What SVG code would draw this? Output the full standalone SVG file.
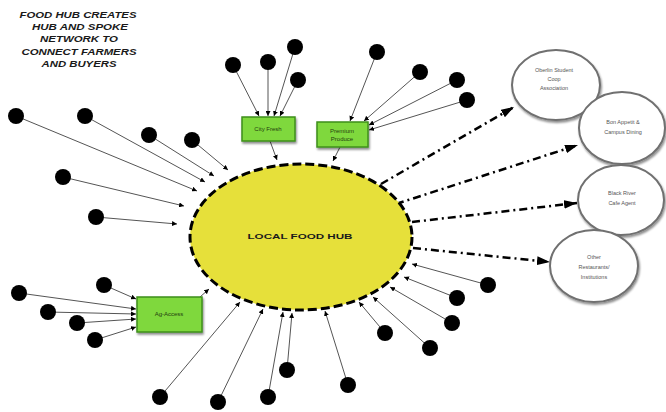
<svg xmlns="http://www.w3.org/2000/svg" width="666" height="412" viewBox="0 0 666 412">
<defs>
<marker id="sm" viewBox="0 0 6 6" refX="6" refY="3" markerWidth="5" markerHeight="5" markerUnits="userSpaceOnUse" orient="auto"><path d="M0,0 L6,3 L0,6 z" fill="#000"/></marker>
<marker id="big" viewBox="0 0 12 8" refX="12" refY="4" markerWidth="13" markerHeight="9" markerUnits="userSpaceOnUse" orient="auto"><path d="M0,0 L12,4 L0,8 z" fill="#000"/></marker>
<filter id="sh" x="-20%" y="-20%" width="140%" height="140%"><feGaussianBlur in="SourceAlpha" stdDeviation="1.2"/><feOffset dx="1" dy="1.5"/><feComponentTransfer><feFuncA type="linear" slope="0.45"/></feComponentTransfer><feMerge><feMergeNode/><feMergeNode in="SourceGraphic"/></feMerge></filter>
</defs>
<style>
.t{font-family:"Liberation Sans",Arial,sans-serif;fill:#1a1a1a;text-anchor:middle}
.title{font-size:9px;font-weight:bold;font-style:italic}
.hub{font-size:8px;font-weight:bold}
.box{fill:#7fd83c;stroke:#3f8f1d;stroke-width:1.5;filter:url(#sh)}
.bt{font-size:6px;fill:#24400f}
.buyer{fill:#fff;stroke:#6f6f6f;stroke-width:2;filter:url(#sh)}
.ct{font-size:5.5px;fill:#555}
.dot{fill:#000}
.sp{stroke:#555;stroke-width:1;fill:none;marker-end:url(#sm)}
.dd{stroke:#000;stroke-width:2.5;fill:none;stroke-dasharray:8 4 2 4;marker-end:url(#big)}
</style>
<rect width="666" height="412" fill="#fff"/>
<g id="title" class="t title">
<text x="78" y="18" textLength="117" lengthAdjust="spacingAndGlyphs">FOOD HUB CREATES</text>
<text x="80" y="30" textLength="96" lengthAdjust="spacingAndGlyphs">HUB AND SPOKE</text>
<text x="79" y="42" textLength="78" lengthAdjust="spacingAndGlyphs">NETWORK TO</text>
<text x="79" y="55" textLength="115" lengthAdjust="spacingAndGlyphs">CONNECT FARMERS</text>
<text x="79" y="67" textLength="75" lengthAdjust="spacingAndGlyphs">AND BUYERS</text>
</g>
<g id="connectors">
<!-- left farmers to hub -->
<line class="sp" x1="16" y1="116" x2="197" y2="191"/>
<line class="sp" x1="85" y1="116" x2="205" y2="182"/>
<line class="sp" x1="149" y1="135" x2="214" y2="176"/>
<line class="sp" x1="192" y1="140" x2="228" y2="170"/>
<line class="sp" x1="63" y1="177" x2="184" y2="206"/>
<line class="sp" x1="96" y1="217" x2="177" y2="224"/>
<!-- City Fresh -->
<line class="sp" x1="233" y1="65" x2="259" y2="116"/>
<line class="sp" x1="268" y1="62" x2="268" y2="116"/>
<line class="sp" x1="295" y1="47" x2="274" y2="116"/>
<line class="sp" x1="298" y1="80" x2="280" y2="116"/>
<line class="sp" x1="270" y1="141" x2="277" y2="160"/>
<!-- Premium Produce -->
<line class="sp" x1="377" y1="52" x2="350" y2="121"/>
<line class="sp" x1="420" y1="72" x2="364" y2="121"/>
<line class="sp" x1="457" y1="80" x2="369" y2="125"/>
<line class="sp" x1="467" y1="100" x2="369" y2="130"/>
<line class="sp" x1="340" y1="147" x2="333" y2="161"/>
<!-- Ag-Access -->
<line class="sp" x1="104" y1="285" x2="136" y2="299"/>
<line class="sp" x1="19" y1="293" x2="136" y2="309"/>
<line class="sp" x1="48" y1="312" x2="136" y2="314"/>
<line class="sp" x1="77" y1="323" x2="136" y2="319"/>
<line class="sp" x1="95" y1="340" x2="136" y2="327"/>
<line class="sp" x1="200" y1="297" x2="209" y2="289"/>
<!-- bottom farmers -->
<line class="sp" x1="160" y1="397" x2="240" y2="302"/>
<line class="sp" x1="218" y1="402" x2="263" y2="309"/>
<line class="sp" x1="268" y1="397" x2="283" y2="312"/>
<line class="sp" x1="287" y1="370" x2="292" y2="313"/>
<line class="sp" x1="348" y1="385" x2="325" y2="311"/>
<line class="sp" x1="385" y1="333" x2="359" y2="302"/>
<line class="sp" x1="430" y1="348" x2="373" y2="297"/>
<line class="sp" x1="452" y1="323" x2="390" y2="287"/>
<line class="sp" x1="457" y1="298" x2="404" y2="277"/>
<line class="sp" x1="488" y1="285" x2="412" y2="264"/>
<!-- hub to buyers -->
<line class="dd" x1="381" y1="184" x2="514" y2="107"/>
<line class="dd" x1="396" y1="204" x2="578" y2="145"/>
<line class="dd" x1="412" y1="222" x2="577" y2="203"/>
<line class="dd" x1="413" y1="248" x2="550" y2="262"/>
</g>
<g id="hub">
<ellipse cx="301" cy="237" rx="111" ry="73" fill="#e6e03a" stroke="#000" stroke-width="3" stroke-dasharray="9 4"/>
<text class="t hub" x="300" y="239" textLength="105" lengthAdjust="spacingAndGlyphs">LOCAL FOOD HUB</text>
</g>
<g id="city-fresh">
<rect class="box" x="242" y="117" width="53" height="24"/>
<text class="t bt" x="268" y="131">City Fresh</text>
</g>
<g id="premium-produce">
<rect class="box" x="317" y="122" width="51" height="25"/>
<text class="t bt" x="342" y="133">Premium</text>
<text class="t bt" x="342" y="141">Produce</text>
</g>
<g id="ag-access">
<rect class="box" x="137" y="297" width="65" height="35"/>
<text class="t bt" x="169" y="316">Ag-Access</text>
</g>
<g id="oberlin">
<ellipse class="buyer" cx="556" cy="85" rx="44" ry="35"/>
<text class="t ct" x="554" y="72">Oberlin Student</text>
<text class="t ct" x="554" y="81">Coop</text>
<text class="t ct" x="554" y="90">Association</text>
</g>
<g id="bon-appetit">
<ellipse class="buyer" cx="622" cy="128" rx="43" ry="36"/>
<text class="t ct" x="623" y="124">Bon Appetit &amp;</text>
<text class="t ct" x="623" y="134">Campus Dining</text>
</g>
<g id="black-river">
<ellipse class="buyer" cx="621" cy="200" rx="43" ry="35"/>
<text class="t ct" x="622" y="195">Black River</text>
<text class="t ct" x="622" y="205">Cafe Agent</text>
</g>
<g id="other">
<ellipse class="buyer" cx="594" cy="266" rx="44" ry="36"/>
<text class="t ct" x="594" y="259">Other</text>
<text class="t ct" x="594" y="269">Restaurants/</text>
<text class="t ct" x="594" y="279">Institutions</text>
</g>
<g id="farmers">
<circle class="dot" cx="16" cy="116" r="8"/>
<circle class="dot" cx="85" cy="116" r="8"/>
<circle class="dot" cx="149" cy="135" r="8"/>
<circle class="dot" cx="192" cy="140" r="8"/>
<circle class="dot" cx="63" cy="177" r="8"/>
<circle class="dot" cx="96" cy="217" r="8"/>
<circle class="dot" cx="233" cy="65" r="8"/>
<circle class="dot" cx="268" cy="62" r="8"/>
<circle class="dot" cx="295" cy="47" r="8"/>
<circle class="dot" cx="298" cy="80" r="8"/>
<circle class="dot" cx="377" cy="52" r="8"/>
<circle class="dot" cx="420" cy="72" r="8"/>
<circle class="dot" cx="457" cy="80" r="8"/>
<circle class="dot" cx="467" cy="100" r="8"/>
<circle class="dot" cx="104" cy="285" r="8"/>
<circle class="dot" cx="19" cy="293" r="8"/>
<circle class="dot" cx="48" cy="312" r="8"/>
<circle class="dot" cx="77" cy="323" r="8"/>
<circle class="dot" cx="95" cy="340" r="8"/>
<circle class="dot" cx="160" cy="397" r="8"/>
<circle class="dot" cx="218" cy="402" r="8"/>
<circle class="dot" cx="268" cy="397" r="8"/>
<circle class="dot" cx="287" cy="370" r="8"/>
<circle class="dot" cx="348" cy="385" r="8"/>
<circle class="dot" cx="385" cy="333" r="8"/>
<circle class="dot" cx="430" cy="348" r="8"/>
<circle class="dot" cx="452" cy="323" r="8"/>
<circle class="dot" cx="457" cy="298" r="8"/>
<circle class="dot" cx="488" cy="285" r="8"/>
</g>
</svg>
